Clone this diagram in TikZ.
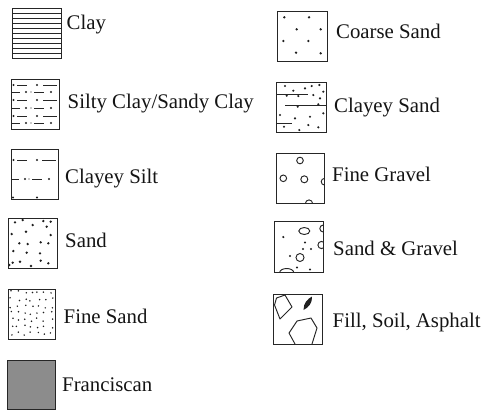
\documentclass[tikz,border=0pt]{standalone}
\usepackage{fontspec}
\setmainfont{Liberation Serif}
\begin{document}
\begin{tikzpicture}[x=1bp,y=-1bp,
  box/.style={draw=black!85,line width=1.2bp,inner sep=0,anchor=north west},
  lab/.style={anchor=base west,inner sep=0,font=\fontsize{20.8bp}{24bp}\selectfont,text=black!92},
  pat/.style={line width=0.95bp,draw=black!85},
  dot/.style={fill=black!88}]
\useasboundingbox (0,0) rectangle (487,410);

% ---------- Clay ----------
\foreach \k in {1,...,9} \draw[pat] (12,{8+5*\k}) -- (61,{8+5*\k});
\node[box,minimum width=49bp,minimum height=50bp] (clay) at (12,8) {};
\node[lab] (clayT) at (66.5,29.5) {Clay};

% ---------- Silty Clay ----------
\foreach \y in {85,100,116} {
  \fill[dot] (13.5,\y) circle (1.1);
  \draw[pat] (17,\y) -- (27,\y);
  \fill[dot] (37,\y) circle (1.1);
  \draw[pat] (43,\y) -- (57,\y);
}
\foreach \y in {92,108,123} {
  \draw[pat] (11,\y) -- (20,\y);
  \fill[dot] (26,\y) circle (1.1);
  \fill[dot] (31,\y) circle (0.7);
  \draw[pat] (34,\y) -- (44,\y);
  \fill[dot] (51,\y) circle (1.1);
}
\node[box,minimum width=48bp,minimum height=50bp] (silty) at (11,79) {};
\node[lab] (siltyT) at (67.5,108) {Silty Clay/Sandy Clay};

% ---------- Clayey Silt ----------
\fill[dot] (13.5,160) circle (1.1);
\draw[pat] (17,160) -- (27,160);
\fill[dot] (37,160) circle (1.1);
\draw[pat] (42,160) -- (56,160);
\draw[pat] (11,179) -- (19,179);
\fill[dot] (25,179) circle (1.1);
\fill[dot] (29,179) circle (0.7);
\draw[pat] (32,179) -- (42,179);
\fill[dot] (49,179) circle (1.1);
\fill[dot] (13,197.5) circle (1.2);
\fill[dot] (37,197.5) circle (1.2);
\node[box,minimum width=47bp,minimum height=50bp] (csilt) at (11,149) {};
\node[lab] (csiltT) at (65,183) {Clayey Silt};

% ---------- Sand ----------
\foreach \p in {(15,222.3),(22.7,220),(32.7,225),(43.3,221),(50.7,221.7),(26,231.7),
  (46.7,226.7),(11.7,234),(50.7,235),(19.3,243.3),(27.7,244),(40.7,242.3),(48.3,243.3),
  (13.3,251),(26.7,252.7),(40,253.3),(12.7,262.7),(20,261.7),(31,266),(40.7,260.7),
  (48.3,263.3),(9.3,265)}
  \fill[dot] \p circle (1.3);
\node[box,minimum width=49bp,minimum height=50bp] (sand) at (8,218) {};
\node[lab] (sandT) at (65,247) {Sand};

% ---------- Fine Sand ----------
\pgfmathsetseed{17}
\foreach \i in {0,...,6} \foreach \j in {0,...,6}
  \fill[dot] ({11.5+\i*6.6+rand*1.8},{292.5+\j*6.8+rand*1.8}) circle (0.85);
\node[box,minimum width=47bp,minimum height=50bp] (fsand) at (8,289) {};
\node[lab] (fsandT) at (63.5,323) {Fine Sand};

% ---------- Franciscan ----------
\node[box,fill=black!45,minimum width=48bp,minimum height=49bp] (fran) at (7,360) {};
\node[lab] (franT) at (62,391) {Franciscan};

% ---------- Coarse Sand ----------
\foreach \p in {(284.3,17.3),(309,17.3),(296.7,29.3),(320.7,29.3),(283.3,41),(308.3,41),
  (296,52.7),(320.7,53.3)}
  \fill[dot] \p circle (1.3);
\node[box,minimum width=50bp,minimum height=50bp] (coarse) at (277,11) {};
\node[lab] (coarseT) at (336,38.5) {Coarse Sand};

% ---------- Clayey Sand ----------
\foreach \p in {(285,86),(293.3,90.7),(305,88.3),(311.7,86),(319.3,85),(323.3,91.7),
  (286.7,95.7),(298.3,96),(313.3,95),(320,98.3),(297.7,106.7),(318.3,104.3),
  (280,115),(295,118.3),(310,116.7),(323.3,113.3),(284,126.7),(299.3,130),(308.3,125),
  (318.3,127.3)}
  \fill[dot] \p circle (1.2);
\draw[pat] (277,94) -- (308,94);
\draw[pat] (285,105) -- (326,105);
\draw[pat] (277,123.5) -- (292,123.5);
\node[box,minimum width=50bp,minimum height=50bp] (csand) at (276,82) {};
\node[lab] (csandT) at (334,112) {Clayey Sand};

% ---------- Fine Gravel ----------
\begin{scope}
  \clip (276,153) rectangle (324,203);
  \draw[pat] (300,160.5) circle (3.3);
  \draw[pat] (283.3,178.3) circle (3.3);
  \draw[pat] (304.3,179.3) circle (3.5);
  \draw[pat] (324.5,181.7) circle (3.3);
  \draw[pat] (309,203.5) circle (3.6);
\end{scope}
\node[box,minimum width=48bp,minimum height=50bp] (fgrav) at (276,153) {};
\node[lab] (fgravT) at (332,181) {Fine Gravel};

% ---------- Sand & Gravel ----------
\begin{scope}
  \clip (274,221) rectangle (323,272);
  \draw[pat] (304.3,231) ellipse (5.5 and 3.5);
  \draw[pat] (323.3,228.5) circle (3.5);
  \draw[pat] (300,257.5) circle (4);
  \draw[pat] (321.5,245) circle (3.6);
  \draw[pat] (286.7,272.5) ellipse (7 and 4);
\end{scope}
\foreach \p in {(283.3,237),(290,256),(303,249),(311,249),(305,242.5),(297,267.5),(310,269.5)}
  \fill[dot] \p circle (1.2);
\node[box,minimum width=49bp,minimum height=51bp] (sgrav) at (274,221) {};
\node[lab] (sgravT) at (333,255) {Sand \& Gravel};

% ---------- Fill, Soil, Asphalt ----------
\draw[pat,line join=round] (276.5,298) -- (285,295) -- (292,307) -- (280,319) -- (274.5,305) -- cycle;
\fill[black!88] (303.5,310) .. controls (303.5,303) and (307.5,299) .. (312,296.5)
   .. controls (312.5,303) and (308.5,307.5) .. (303.5,310) -- cycle;
\draw[pat,line join=round] (295,344) -- (289,333) -- (297,321) -- (311,318) -- (317,328) -- (312,344);
\node[box,minimum width=49bp,minimum height=50bp] (fill) at (273,294) {};
\node[lab] (fillT) at (332.5,327) {Fill, Soil, Asphalt};
\end{tikzpicture}
\end{document}
